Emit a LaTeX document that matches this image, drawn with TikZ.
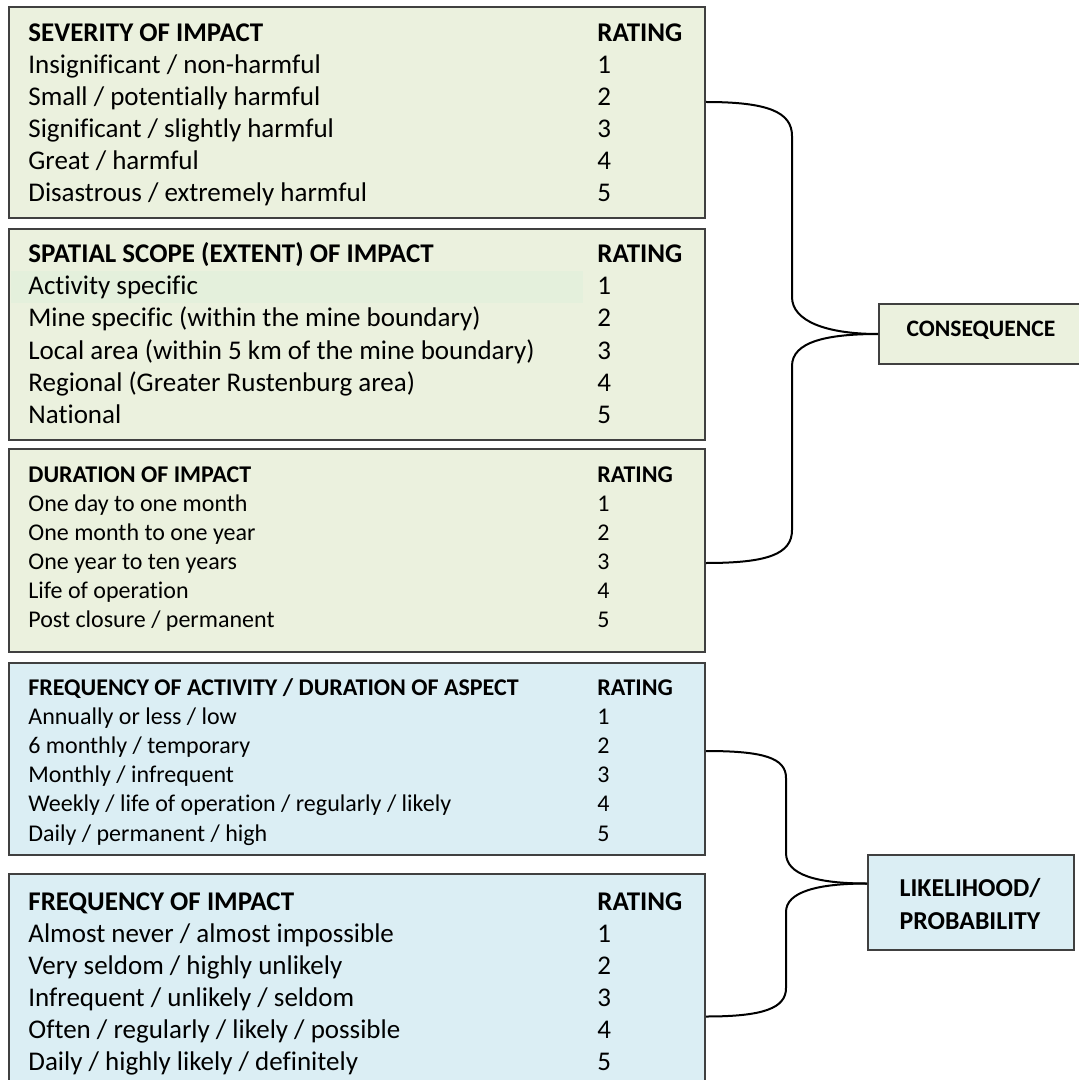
\documentclass[tikz,border=0pt]{standalone}
\usepackage{fontspec}
\setmainfont{Carlito}[Ligatures=NoCommon]
\usepackage{tikz}
\usetikzlibrary{calc}
\definecolor{consfill}{RGB}{235,241,222}
\definecolor{likefill}{RGB}{219,238,244}
\definecolor{rowmark}{RGB}{228,240,220}
\definecolor{boxline}{RGB}{64,64,64}
\tikzset{
  cbox/.style={draw=boxline,line width=1pt,fill=consfill,anchor=north west,inner sep=0pt},
  lbox/.style={draw=boxline,line width=1pt,fill=likefill,anchor=north west,inner sep=0pt},
  bigtxt/.style={anchor=base west,inner sep=0pt,font=\fontsize{13.5}{16}\selectfont},
  smalltxt/.style={anchor=base west,inner sep=0pt,font=\fontsize{12}{14}\selectfont},
  tag/.style={align=center,inner sep=0pt,font=\bfseries\fontsize{11.8}{16.5}\selectfont},
  brace/.style={draw=black,line width=1pt},
}

\begin{document}
\begin{tikzpicture}[x=0.5pt,y=-0.5pt]
\useasboundingbox (0,0) rectangle (1078,1080);
% consequence tables
\node[cbox,minimum width=348pt,minimum height=105.5pt] (sev) at (8,6) {};
\node[cbox,minimum width=348pt,minimum height=105.5pt] (spat) at (8,228) {};
\fill[rowmark] (11,271) rectangle (583,303);
\node[cbox,minimum width=348pt,minimum height=101.5pt] (dur) at (8,448) {};
% likelihood tables
\node[lbox,minimum width=348pt,minimum height=96pt] (freqact) at (8,662) {};
\node[lbox,minimum width=348pt,minimum height=104.5pt] (freqimp) at (8,873) {};
% result boxes
\node[cbox,minimum width=103pt,minimum height=30pt] (cons) at (878,303) {};
\node[tag,anchor=base] (constxt) at (981,336) {CONSEQUENCE};
\node[lbox,minimum width=103pt,minimum height=47.5pt] (lik) at (867,854) {};
\node[tag,anchor=center,font=\bfseries\fontsize{12.9}{16.5}\selectfont] (liktxt) at (970,904) {LIKELIHOOD/\\PROBABILITY};
% severity
\node[bigtxt] (sev-h) at (28,42) {\bfseries SEVERITY OF IMPACT};
\node[bigtxt] (sev-r) at (597,42) {\bfseries RATING};
\foreach \t [count=\i] in {Insignificant / non-harmful,Small / potentially harmful,
  Significant / slightly harmful,Great / harmful,Disastrous / extremely harmful}{
  \node[bigtxt] (sev-\i) at (28,42+32*\i) {\t};
  \node[bigtxt] (sevn-\i) at (597,42+32*\i) {\i};
}
% spatial scope
\node[bigtxt] (spat-h) at (28,263) {\bfseries SPATIAL SCOPE (EXTENT) OF IMPACT};
\node[bigtxt] (spat-r) at (597,263) {\bfseries RATING};
\foreach \t [count=\i] in {Activity specific,Mine specific (within the mine boundary),
  Local area (within 5 km of the mine boundary),Regional (Greater Rustenburg area),National}{
  \node[bigtxt] (spat-\i) at (28,263+32*\i) {\t};
  \node[bigtxt] (spatn-\i) at (597,263+32*\i) {\i};
}
% duration
\node[smalltxt] (dur-h) at (28,482) {\bfseries DURATION OF IMPACT};
\node[smalltxt] (dur-r) at (597,482) {\bfseries RATING};
\foreach \t [count=\i] in {One day to one month,One month to one year,
  One year to ten years,Life of operation,Post closure / permanent}{
  \node[smalltxt] (dur-\i) at (28,482+29*\i) {\t};
  \node[smalltxt] (durn-\i) at (597,482+29*\i) {\i};
}
% frequency of activity
\node[smalltxt] (freqact-h) at (28,695) {\bfseries FREQUENCY OF ACTIVITY / DURATION OF ASPECT};
\node[smalltxt] (freqact-r) at (597,695) {\bfseries RATING};
\foreach \t [count=\i] in {Annually or less / low,6 monthly / temporary,
  Monthly / infrequent,Weekly / life of operation / regularly / likely,Daily / permanent / high}{
  \node[smalltxt] (freqact-\i) at (28,695+29.2*\i) {\t};
  \node[smalltxt] (freqactn-\i) at (597,695+29.2*\i) {\i};
}
% frequency of impact
\node[bigtxt] (freqimp-h) at (28,910) {\bfseries FREQUENCY OF IMPACT};
\node[bigtxt] (freqimp-r) at (597,910) {\bfseries RATING};
\foreach \t [count=\i] in {Almost never / almost impossible,Very seldom / highly unlikely,
  Infrequent / unlikely / seldom,Often / regularly / likely / possible,Daily / highly likely / definitely}{
  \node[bigtxt] (freqimp-\i) at (28,910+32*\i) {\t};
  \node[bigtxt] (freqimpn-\i) at (597,910+32*\i) {\i};
}
% braces
\draw[brace] ([yshift=5.25pt]sev.east) .. controls +(62,0) and +(0,-24) .. (792,136)
  -- (792,297) .. controls +(0,24) and +(-52,0) .. (cons.west);
\draw[brace] (cons.west) .. controls +(-52,0) and +(0,-24) .. (792,366)
  -- (792,530) .. controls +(0,24) and +(62,0) .. ([yshift=-6.25pt]dur.east);
\draw[brace] ([yshift=4pt]freqact.east) .. controls +(58,0) and +(0,-20) .. (786,778)
  -- (786,853) .. controls +(0,22) and +(-50,0) .. ([yshift=9.5pt]lik.west);
\draw[brace] ([yshift=9.5pt]lik.west) .. controls +(-50,0) and +(0,-20) .. (786,912)
  -- (786,988) .. controls +(0,20) and +(58,0) .. ([yshift=-19pt]freqimp.east);
\end{tikzpicture}
\end{document}
